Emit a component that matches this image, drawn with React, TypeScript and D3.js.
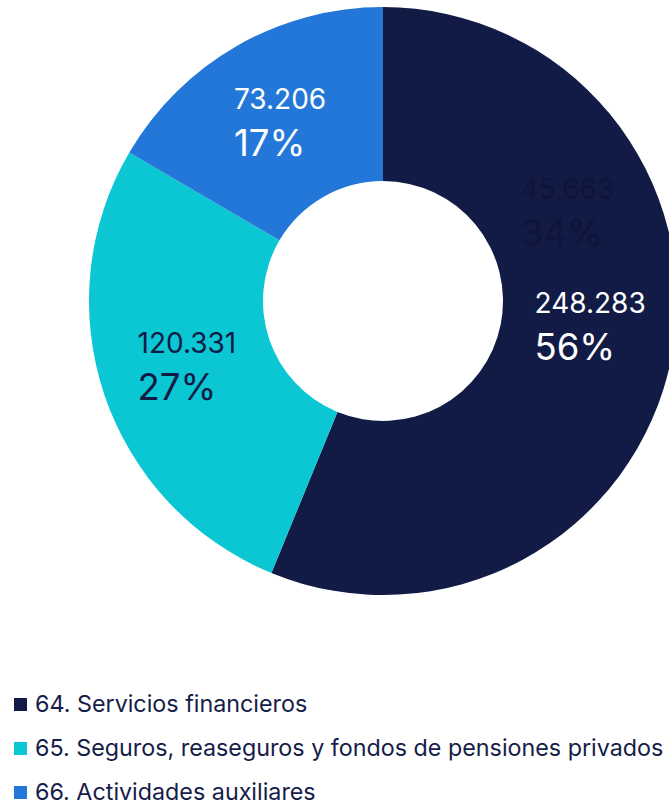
import React, { useEffect, useRef } from "react";
import * as d3 from "d3";

const categories = [
  "64. Servicios financieros",
  "65. Seguros, reaseguros y fondos de pensiones privados",
  "66. Actividades auxiliares",
];
const values = [248283, 120331, 73206];
const valueLabels = ["248.283", "120.331", "73.206"];
const pctLabels = ["56%", "27%", "17%"];
const colors = ["#121b45", "#0bc6d3", "#2277d9"];
const labelColors = ["#ffffff", "#121b45", "#ffffff"];
// small label nudges (px) relative to the slice centroid
const labelNudges: [number, number][] = [[4, -14], [0, 0], [0, 2]];
// faint leftover label visible on the dark slice
const ghostShare = [0.34, 0.66];
const ghostValueLabel = "45.663";
const ghostPctLabel = "34%";
const ghostNudge: [number, number] = [3, 12];

const W = 669;
const H = 804;
const cx = 383;
const cy = 301;
const outerR = 294;
const innerR = 120;
const FONT = "Inter, 'Noto Sans', sans-serif";

export default function App() {
  const ref = useRef<SVGSVGElement>(null);

  useEffect(() => {
    const svg = d3.select(ref.current);
    svg.selectAll("*").remove();
    const g = svg.append("g").attr("transform", `translate(${cx},${cy})`);

    const pie = d3.pie<number>().sort(null).value((d) => d);
    const arcs = pie(values);
    const arc = d3.arc<d3.PieArcDatum<number>>().innerRadius(innerR).outerRadius(outerR);

    g.selectAll("path.slice")
      .data(arcs)
      .join("path")
      .attr("class", "slice")
      .attr("d", arc)
      .attr("fill", (_, i) => colors[i]);

    const drawLabel = (
      c: [number, number],
      nudge: [number, number],
      v: string,
      p: string,
      color: string
    ) => {
      const lg = g.append("g");
      lg.append("text")
        .attr("x", 0)
        .attr("y", 0)
        .attr("font-family", FONT)
        .attr("font-size", 28)
        .attr("fill", color)
        .text(v);
      lg.append("text")
        .attr("x", 0)
        .attr("y", 47)
        .attr("font-family", FONT)
        .attr("font-size", 36.5)
        .attr("fill", color)
        .text(p);
      const bb = (lg.node() as SVGGElement).getBBox();
      const dx = c[0] + nudge[0] - (bb.x + bb.width / 2);
      const dy = c[1] + nudge[1] - (bb.y + bb.height / 2);
      lg.attr("transform", `translate(${dx},${dy})`);
    };

    const ghostArcs = pie(ghostShare);
    drawLabel(
      arc.centroid(ghostArcs[0]) as [number, number],
      ghostNudge,
      ghostValueLabel,
      ghostPctLabel,
      "#0e1538"
    );

    arcs.forEach((a, i) => {
      drawLabel(
        arc.centroid(a) as [number, number],
        labelNudges[i],
        valueLabels[i],
        pctLabels[i],
        labelColors[i]
      );
    });

    const leg = svg.append("g");
    categories.forEach((c, i) => {
      const y = 712 + i * 44;
      leg.append("rect")
        .attr("x", 14)
        .attr("y", y - 14)
        .attr("width", 13)
        .attr("height", 13)
        .attr("fill", colors[i]);
      leg.append("text")
        .attr("x", 35)
        .attr("y", y)
        .attr("font-family", FONT)
        .attr("font-size", 23.3)
        .attr("fill", "#161d48")
        .text(c);
    });
  }, []);

  return (
    <svg
      ref={ref}
      width={W}
      height={H}
      style={{ position: "absolute", left: 0, top: 0, background: "#ffffff" }}
    />
  );
}
